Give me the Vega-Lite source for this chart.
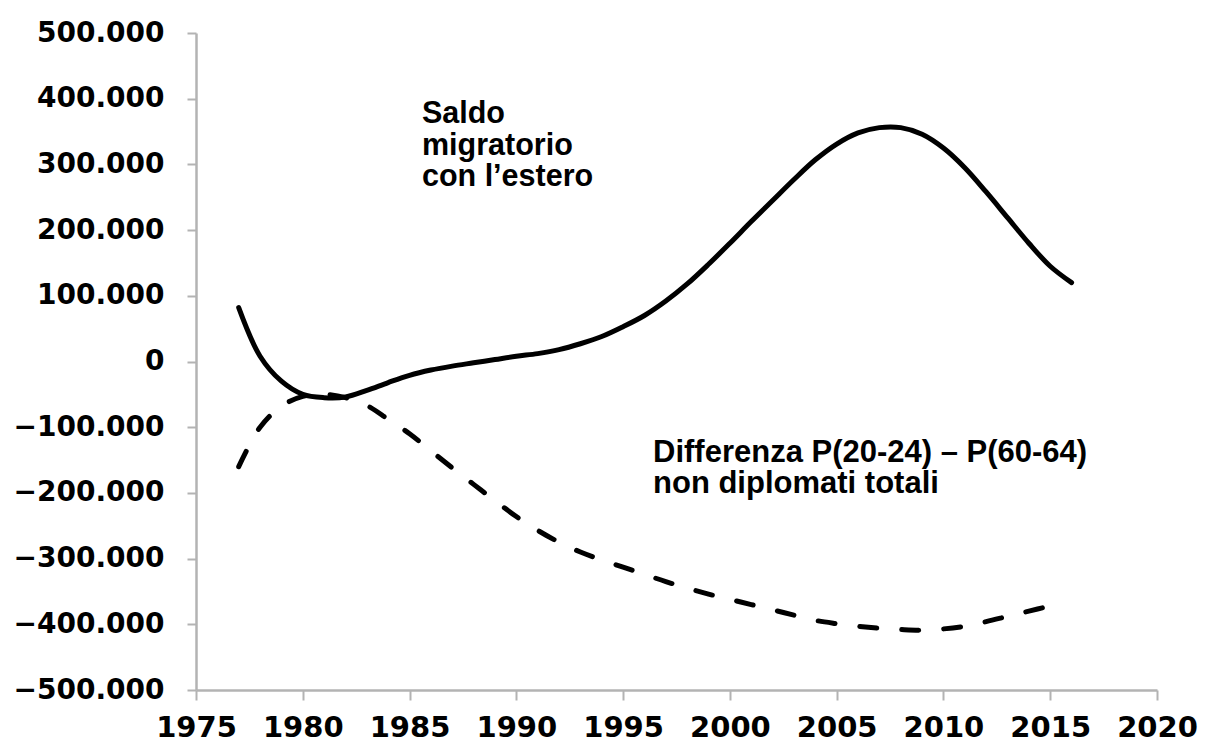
{
  "$schema": "https://vega.github.io/schema/vega-lite/v6.json",
  "width": 961,
  "height": 657,
  "autosize": {"type": "none"},
  "padding": {"left": 196, "top": 33, "right": 54, "bottom": 53},
  "background": "white",
  "config": {
    "view": {"stroke": null},
    "locale": {"number": {"decimal": ",", "thousands": ".", "grouping": [3], "currency": ["€", ""], "minus": "−"}}
  },
  "datasets": {
    "saldo": [
      {"anno": 1977, "valore": 82000}, {"anno": 1978, "valore": 8000}, {"anno": 1979, "valore": -30000},
      {"anno": 1980, "valore": -50000}, {"anno": 1981, "valore": -55000}, {"anno": 1982, "valore": -54000},
      {"anno": 1983, "valore": -44000}, {"anno": 1984, "valore": -32000}, {"anno": 1985, "valore": -21000},
      {"anno": 1986, "valore": -13000}, {"anno": 1987, "valore": -7000}, {"anno": 1988, "valore": -2000},
      {"anno": 1989, "valore": 3000}, {"anno": 1990, "valore": 8000}, {"anno": 1991, "valore": 12000},
      {"anno": 1992, "valore": 18000}, {"anno": 1993, "valore": 27000}, {"anno": 1994, "valore": 38000},
      {"anno": 1995, "valore": 53000}, {"anno": 1996, "valore": 70000}, {"anno": 1997, "valore": 92000},
      {"anno": 1998, "valore": 118000}, {"anno": 1999, "valore": 148000}, {"anno": 2000, "valore": 180000},
      {"anno": 2001, "valore": 213000}, {"anno": 2002, "valore": 245000}, {"anno": 2003, "valore": 277000},
      {"anno": 2004, "valore": 307000}, {"anno": 2005, "valore": 331000}, {"anno": 2006, "valore": 348000},
      {"anno": 2007, "valore": 356000}, {"anno": 2008, "valore": 356000}, {"anno": 2009, "valore": 346000},
      {"anno": 2010, "valore": 325000}, {"anno": 2011, "valore": 295000}, {"anno": 2012, "valore": 258000},
      {"anno": 2013, "valore": 219000}, {"anno": 2014, "valore": 180000}, {"anno": 2015, "valore": 145000},
      {"anno": 2016, "valore": 120000}
    ],
    "differenza": [
      {"anno": 1977, "valore": -160000}, {"anno": 1978, "valore": -100000}, {"anno": 1979, "valore": -68000},
      {"anno": 1980, "valore": -53000}, {"anno": 1981, "valore": -50000}, {"anno": 1982, "valore": -55000},
      {"anno": 1983, "valore": -67000}, {"anno": 1984, "valore": -88000}, {"anno": 1985, "valore": -110000},
      {"anno": 1986, "valore": -136000}, {"anno": 1987, "valore": -162000}, {"anno": 1988, "valore": -187000},
      {"anno": 1989, "valore": -212000}, {"anno": 1990, "valore": -236000}, {"anno": 1991, "valore": -257000},
      {"anno": 1992, "valore": -275000}, {"anno": 1993, "valore": -290000}, {"anno": 1994, "valore": -302000},
      {"anno": 1995, "valore": -313000}, {"anno": 1996, "valore": -324000}, {"anno": 1997, "valore": -335000},
      {"anno": 1998, "valore": -345000}, {"anno": 1999, "valore": -354000}, {"anno": 2000, "valore": -362000},
      {"anno": 2001, "valore": -370000}, {"anno": 2002, "valore": -378000}, {"anno": 2003, "valore": -386000},
      {"anno": 2004, "valore": -394000}, {"anno": 2005, "valore": -399000}, {"anno": 2006, "valore": -403000},
      {"anno": 2007, "valore": -406000}, {"anno": 2008, "valore": -408000}, {"anno": 2009, "valore": -409000},
      {"anno": 2010, "valore": -407000}, {"anno": 2011, "valore": -403000}, {"anno": 2012, "valore": -396000},
      {"anno": 2013, "valore": -388000}, {"anno": 2014, "valore": -380000}, {"anno": 2015, "valore": -372000}
    ],
    "etichette": [
      {"anno": 1985.58, "valore": 363000, "testo": "Saldo\nmigratorio\ncon l’estero", "gruppo": "a"},
      {"anno": 1996.4, "valore": -153000, "testo": "Differenza P(20-24) – P(60-64)\nnon diplomati totali", "gruppo": "b"}
    ]
  },
  "encoding": {
    "x": {
      "field": "anno", "type": "quantitative",
      "scale": {"domain": [1975, 2020], "nice": false, "zero": false},
      "axis": {
        "values": [1975, 1980, 1985, 1990, 1995, 2000, 2005, 2010, 2015, 2020],
        "format": "d", "title": null, "grid": false,
        "labelFont": "DejaVu Sans", "labelFontWeight": "bold", "labelFontSize": 29, "labelColor": "#000000",
        "labelPadding": 13, "labelFlush": false, "labelOverlap": false,
        "tickSize": 10, "tickColor": "#b3b3b3", "tickWidth": 2,
        "domainColor": "#b3b3b3", "domainWidth": 2.5
      }
    },
    "y": {
      "field": "valore", "type": "quantitative",
      "scale": {"domain": [-500000, 500000], "nice": false},
      "axis": {
        "values": [-500000, -400000, -300000, -200000, -100000, 0, 100000, 200000, 300000, 400000, 500000],
        "format": ",d", "title": null, "grid": false,
        "labelFont": "DejaVu Sans", "labelFontWeight": "bold", "labelFontSize": 28, "labelColor": "#000000",
        "labelPadding": 23, "labelFlush": false, "labelOverlap": false,
        "tickSize": 9, "tickColor": "#b3b3b3", "tickWidth": 2,
        "domainColor": "#b3b3b3", "domainWidth": 2.5
      }
    }
  },
  "layer": [
    {
      "data": {"name": "saldo"},
      "mark": {"type": "line", "color": "#000000", "strokeWidth": 5, "interpolate": "catmull-rom", "strokeCap": "round"}
    },
    {
      "data": {"name": "differenza"},
      "mark": {"type": "line", "color": "#000000", "strokeWidth": 5, "interpolate": "catmull-rom", "strokeCap": "round", "strokeDash": [17, 25]}
    },
    {
      "data": {"name": "etichette"},
      "transform": [{"filter": "datum.gruppo == 'a'"}],
      "mark": {"type": "text", "align": "left", "baseline": "alphabetic", "font": "Liberation Sans", "fontWeight": "bold", "fontSize": 30.5, "lineBreak": "\n", "lineHeight": 31.5, "color": "#000000"},
      "encoding": {"text": {"field": "testo"}}
    },
    {
      "data": {"name": "etichette"},
      "transform": [{"filter": "datum.gruppo == 'b'"}],
      "mark": {"type": "text", "align": "left", "baseline": "alphabetic", "font": "Liberation Sans", "fontWeight": "bold", "fontSize": 31, "lineBreak": "\n", "lineHeight": 31, "color": "#000000"},
      "encoding": {"text": {"field": "testo"}}
    }
  ]
}
